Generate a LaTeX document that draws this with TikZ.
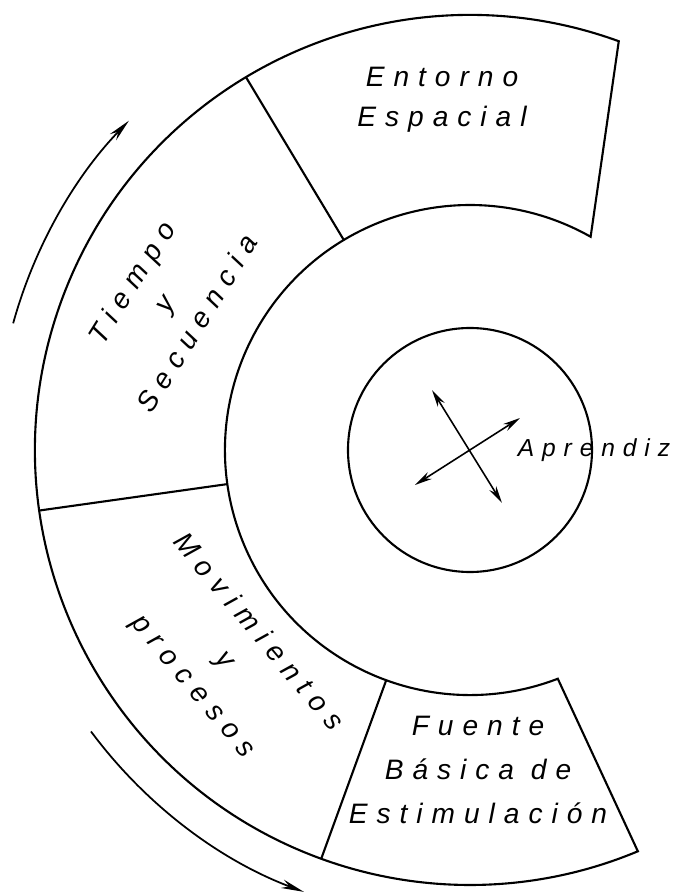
\documentclass[tikz,border=0pt]{standalone}
\usepackage{fontspec}
\usetikzlibrary{arrows.meta}
\newfontfamily\handfont[LetterSpace=32]{Liberation Sans}

\begin{document}
\begin{tikzpicture}[scale=0.02, line width=1.2pt,
  every node/.style={font=\handfont\itshape\fontsize{16}{23}\selectfont, align=center, inner sep=0pt},
  flow/.style={line width=1pt, -{Stealth[length=13pt,width=5pt]}},
  twoway/.style={line width=0.9pt, {Stealth[length=10pt,width=4.5pt]}-{Stealth[length=10pt,width=4.5pt]}}]
\def\Rc{122}
\def\Rin{245}
\def\Rout{435}
\useasboundingbox (-470,-442) rectangle (213,450);
% ring, open on the right
\draw (70:\Rout) arc[start angle=70, end angle=292.7, radius=\Rout] -- (291:\Rin)
  arc[start angle=291, end angle=60.5, radius=\Rin] -- cycle;
\foreach \a in {121,188,250} \draw (\a:\Rin) -- (\a:\Rout);
\draw (0,0) circle (\Rc);
% labels
\node (entorno) at (-28,350) {Entorno\\Espacial};
\node[rotate=58, font=\handfont\itshape\fontsize{16}{22}\selectfont] (tiempo) at (-306,147) {Tiempo\\y\\Secuencia};
\node[rotate=-50, font=\handfont\itshape\fontsize{16}{24}\selectfont] (movim) at (-245,-210) {Movimientos\\y\\procesos};
\node[font=\handfont\itshape\fontsize{16}{25}\selectfont] (fuente) at (8,-320) {Fuente\\Básica de\\Estimulación};
\node[font=\handfont\itshape\fontsize{14}{16}\selectfont] (aprendiz) at (124,0) {Aprendiz};
% crossed arrows
\coordinate (a1) at (-38,60);
\coordinate (a2) at (32,-53);
\coordinate (b1) at (-55,-35);
\coordinate (b2) at (50,32);
\draw[twoway] (a1) -- (a2);
\draw[twoway] (b1) -- (b2);
% outer arrows
\coordinate (up0) at (164.5:474);
\coordinate (dn0) at (216.6:472);
\draw[flow] (up0) arc[start angle=164.5, end angle=136, radius=474];
\draw[flow] (dn0) arc[start angle=216.6, end angle=249.4, radius=472];
\end{tikzpicture}
\end{document}
